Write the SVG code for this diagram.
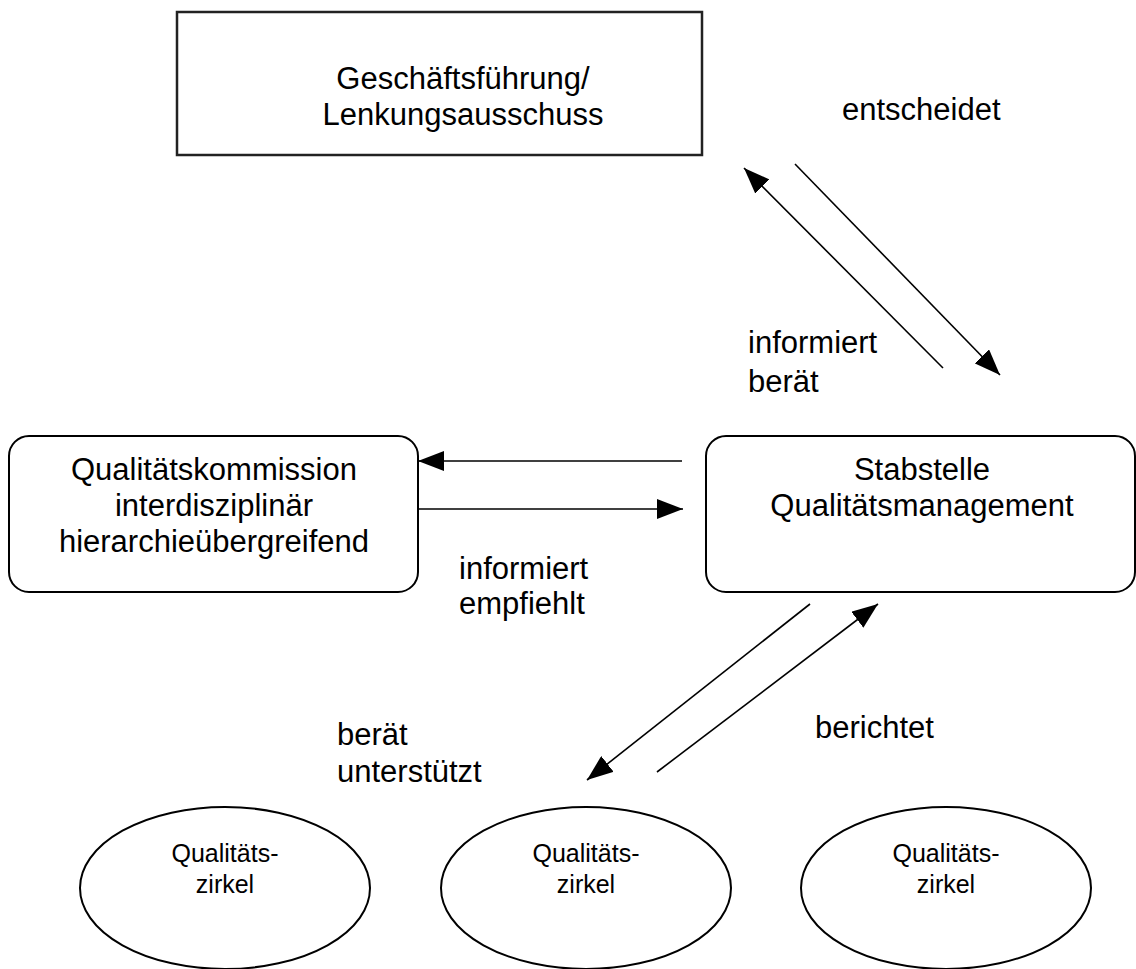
<svg xmlns="http://www.w3.org/2000/svg" width="1136" height="969" viewBox="0 0 1136 969">
<defs>
<marker id="ah" markerUnits="userSpaceOnUse" viewBox="0 0 26 20" refX="26" refY="10" markerWidth="26" markerHeight="20" orient="auto">
<path d="M0,0 L26,10 L0,20 z" fill="#000"/>
</marker>
</defs>
<style>
text{font-family:"Liberation Sans",Arial,sans-serif;fill:#000}
.t{font-size:31px}
.s{font-size:25px}
.box{fill:#fff;stroke:#000;stroke-width:2}
.c{stroke:#000;stroke-width:1.6;fill:none}
.a{marker-end:url(#ah)}
</style>
<rect width="1136" height="969" fill="#fff"/>
<g id="connectors">
<line class="c a" x1="943" y1="368" x2="744" y2="168"/>
<line class="c a" x1="795" y1="164" x2="1000" y2="375"/>
<line class="c a" x1="682" y1="461" x2="418" y2="461"/>
<line class="c a" x1="418" y1="509" x2="683" y2="509"/>
<line class="c a" x1="810" y1="604" x2="587" y2="780"/>
<line class="c a" x1="657" y1="772" x2="878" y2="604"/>
</g>
<g id="labels">
<text class="t" x="842" y="120">entscheidet</text>
<text class="t" x="748" y="353">informiert</text>
<text class="t" x="748" y="392">berät</text>
<text class="t" x="459" y="579">informiert</text>
<text class="t" x="459" y="614">empfiehlt</text>
<text class="t" x="337" y="745">berät</text>
<text class="t" x="337" y="782">unterstützt</text>
<text class="t" x="815" y="738">berichtet</text>
</g>
<g id="node-gf">
<rect x="177" y="12" width="525" height="143" fill="#fff" stroke="#222" stroke-width="2.5"/>
<text class="t" x="463" y="89" text-anchor="middle">Geschäftsführung/</text>
<text class="t" x="463" y="125" text-anchor="middle">Lenkungsausschuss</text>
</g>
<g id="node-qk">
<rect class="box" x="9" y="436" width="409" height="156" rx="20"/>
<text class="t" x="214" y="480" text-anchor="middle">Qualitätskommission</text>
<text class="t" x="214" y="516" text-anchor="middle">interdisziplinär</text>
<text class="t" x="214" y="552" text-anchor="middle">hierarchieübergreifend</text>
</g>
<g id="node-sq">
<rect class="box" x="706" y="436" width="429" height="156" rx="20"/>
<text class="t" x="922" y="480" text-anchor="middle">Stabstelle</text>
<text class="t" x="922" y="516" text-anchor="middle">Qualitätsmanagement</text>
</g>
<g id="node-z1">
<ellipse class="box" cx="225" cy="888" rx="145" ry="81"/>
<text class="s" x="225" y="862" text-anchor="middle">Qualitäts-</text>
<text class="s" x="225" y="893" text-anchor="middle">zirkel</text>
</g>
<g id="node-z2">
<ellipse class="box" cx="586" cy="888" rx="145" ry="81"/>
<text class="s" x="586" y="862" text-anchor="middle">Qualitäts-</text>
<text class="s" x="586" y="893" text-anchor="middle">zirkel</text>
</g>
<g id="node-z3">
<ellipse class="box" cx="946" cy="888" rx="145" ry="81"/>
<text class="s" x="946" y="862" text-anchor="middle">Qualitäts-</text>
<text class="s" x="946" y="893" text-anchor="middle">zirkel</text>
</g>
</svg>
